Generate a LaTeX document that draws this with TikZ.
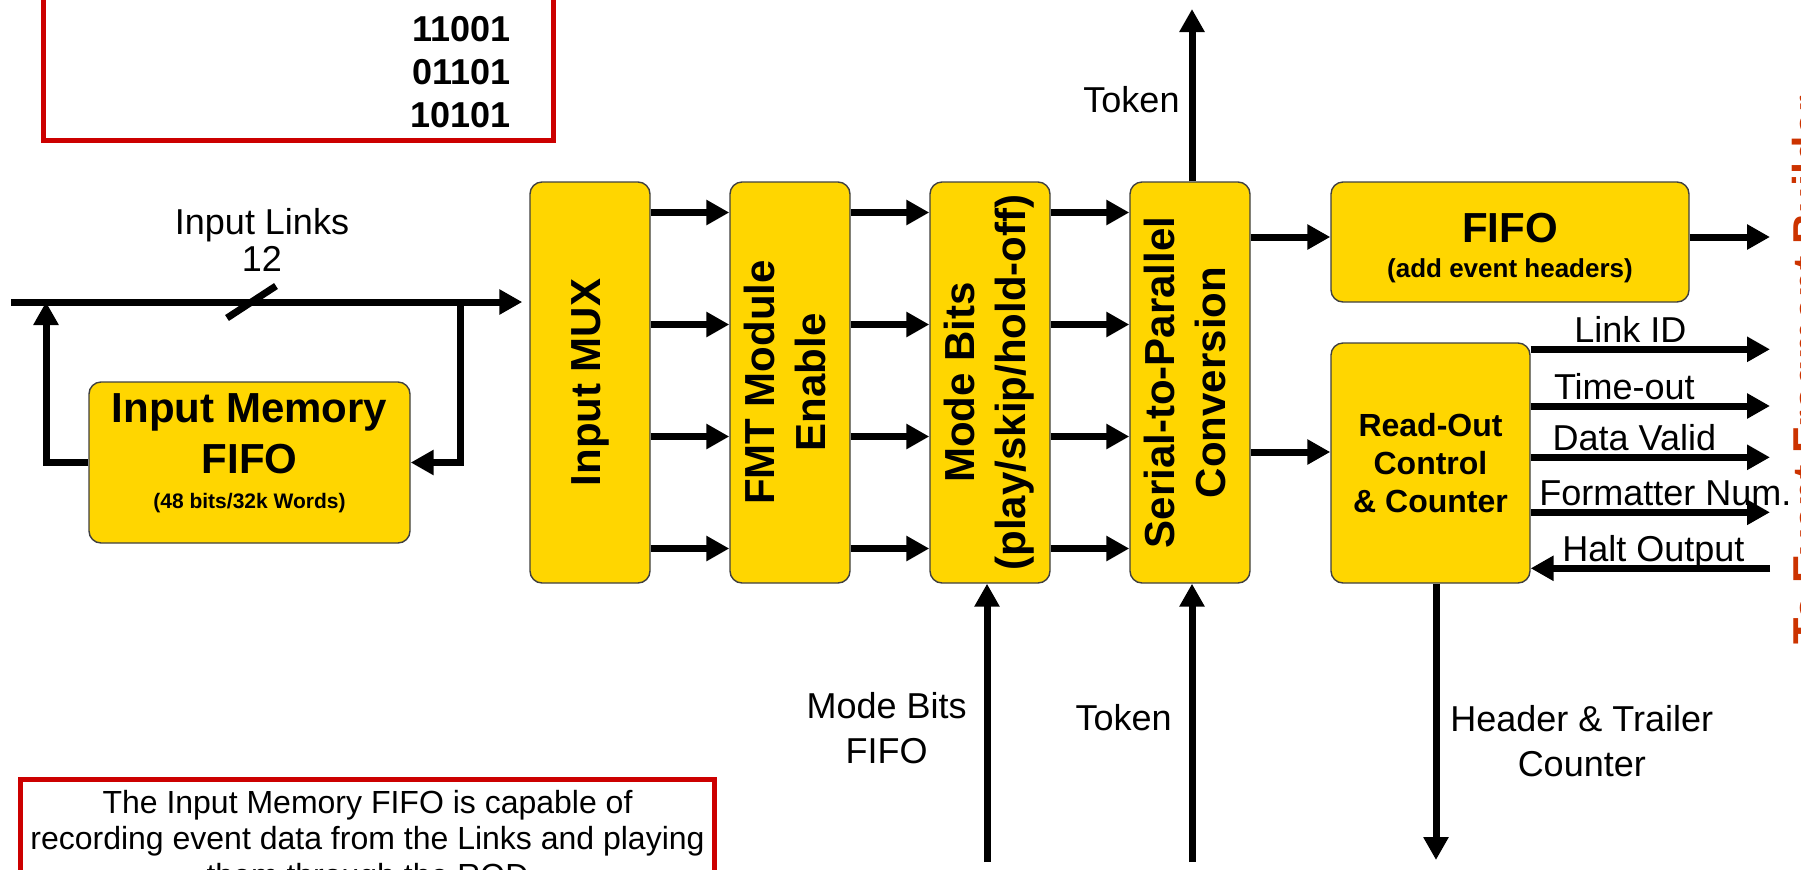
\documentclass[tikz,border=0pt]{standalone}
\usepackage{fontspec}
\setmainfont{Liberation Sans}
\usepackage{graphicx}
\usepackage{tikz}
\usetikzlibrary{arrows.meta}
\usetikzlibrary{positioning}
\tikzset{
    block/.style={
           rectangle,
           rounded corners=6pt,
           draw=black!75, line width=0.7pt,
           fill=blockyellow,
           inner sep=2pt,
           align=center,
           text=black,
           font=\bfseries\fontsize{21}{25.5}\selectfont
           },
    tallblock/.style={block, minimum width=60pt, minimum height=200.5pt},
    wire/.style={line width=3.5pt},
    sig/.style={font=\fontsize{18}{22.5}\selectfont, inner sep=0pt, text=black},
    wirelabel/.style={sig, anchor=base, yshift=3.3pt},
    redbox/.style={rectangle, draw=notered, line width=2.5pt},
}
\definecolor{blockyellow}{RGB}{255,214,0}
\definecolor{notered}{RGB}{204,0,0}
\definecolor{efbred}{RGB}{204,51,0}
\newcommand{\rottext}[1]{\rotatebox{90}{\begin{tabular}{@{}c@{}}#1\end{tabular}}}
\newcommand{\padbelow}[1]{\rule[-#1]{0pt}{0pt}}
\newcommand{\padabove}[1]{\rule{0pt}{#1}}

\begin{document}
\begin{tikzpicture}[->,>={Triangle[length=11.5pt,width=12pt]}]

\useasboundingbox (0,0) rectangle (900.5pt,-434.5pt);
\clip (0,0) rectangle (900.5pt,-434.5pt);

% Box: bit patterns
\node[redbox, minimum width=255pt, minimum height=100pt, anchor=south west] (bitsbox) at (20.5pt,-71.5pt) {};
\node[anchor=south east, inner sep=0pt, align=right, font=\bfseries\fontsize{18}{21.5}\selectfont] (bits) at ([xshift=-22.5pt,yshift=7.5pt]bitsbox.south east) {11001\\01101\\10101};

% Block: input multiplexer
\node[tallblock] (MUX) at (295pt,-191.25pt) {\rotatebox{90}{Input MUX}};

% Block: module enable
\node[tallblock, right of=MUX, node distance=100pt] (FMT) {\rottext{FMT Module\\Enable}};

% Block: mode bits
\node[tallblock, right of=FMT, node distance=100pt] (MODE) {\rottext{Mode Bits\\(play/skip/hold-off)}};

% Block: serial to parallel
\node[tallblock, right of=MODE, node distance=100pt] (S2P) {\rottext{Serial-to-Parallel\\Conversion}};

% Block: input memory
\node[block, minimum width=160.5pt, minimum height=80.5pt, left of=MUX, node distance=170.25pt, yshift=-40pt] (IMF) {Input Memory\\FIFO\\[-8pt]{\fontsize{10.5}{12.6}\selectfont (48 bits/32k Words)\padbelow{11.8pt}}};

% Block: output fifo
\node[block, minimum width=179pt, minimum height=60pt, right of=S2P, node distance=160pt, yshift=70.25pt] (FIFO) {\padabove{20.25pt}FIFO\\[-8pt]{\fontsize{13}{15.6}\selectfont (add event headers)}};

% Block: read-out control
\node[block, minimum width=99.5pt, minimum height=120pt, right of=S2P, node distance=120.25pt, yshift=-40.25pt, font=\bfseries\fontsize{16}{19}\selectfont] (ROC) {Read-Out\\Control\\\& Counter};

% link bus with the memory loop
\coordinate (busin) at (5.5pt,-151pt);
\coordinate (tapL) at (23pt,-151pt);
\coordinate (tapR) at (230pt,-151pt);
\coordinate (busmark) at (125.75pt,-151pt);
\draw[wire, shorten >=3.5pt] (busin) -- (busin -| MUX.west);
\draw[wire,-] ([shift={(-12.25pt,-8pt)}]busmark) -- ([shift={(12.25pt,8pt)}]busmark);
\node[sig, align=center, font=\fontsize{18}{18.3}\selectfont] (links) at (131pt,-120pt) {Input Links\\12};
\draw[wire] (IMF.west) -| (tapL);
\draw[wire] (tapR) |- (IMF.east);

% four lanes between the blocks
\foreach \a/\b in {MUX/FMT, FMT/MODE, MODE/S2P}
  \foreach \dy in {85,29,-27,-83}
    \draw[wire] ([yshift=\dy pt]\a.east) -- ([yshift=\dy pt]\b.west);

\draw[wire] ([yshift=2.5pt]FIFO.west -| S2P.east) -- ([yshift=2.5pt]FIFO.west);
\draw[wire] ([yshift=5.5pt]ROC.west -| S2P.east) -- ([yshift=5.5pt]ROC.west);

% outputs on the right
\coordinate (outx) at (885pt,0);
\draw[wire] ([yshift=2.5pt]FIFO.east) -- ([yshift=2.5pt]FIFO.east -| outx);
\foreach \dy/\txt/\dx [count=\i] in {56.85/Link ID/-10, 28.5/Time-out/-13, 2.85/Data Valid/-8, -24.65/Formatter Num./7.5}
  \draw[wire] ([yshift=\dy pt]ROC.east) -- ([yshift=\dy pt]ROC.east -| outx)
    node[wirelabel, midway, xshift=\dx pt] (sig\i) {\txt};
\draw[wire] ([yshift=-52.65pt]ROC.east -| outx) -- ([yshift=-52.65pt]ROC.east)
    node[wirelabel, midway, xshift=1.5pt] (halt) {Halt Output};

% token out at the top
\coordinate (tokout) at (596pt,-4.5pt);
\draw[wire] (tokout |- S2P.north) -- (tokout)
    node[sig, pos=0.474, anchor=east, xshift=-4.5pt] (toklab) {Token};

% inputs and output at the bottom
\coordinate (modein) at (493.5pt,-431pt);
\coordinate (tokin) at (596pt,-431pt);
\coordinate (hdrout) at (718pt,-430pt);
\draw[wire] (modein) -- (modein |- MODE.south);
\draw[wire] (tokin) -- (tokin |- S2P.south);
\draw[wire] (hdrout |- ROC.south) -- (hdrout);
\node[sig, align=center, anchor=east] (modelab) at ([xshift=-10pt,yshift=67pt]modein) {Mode Bits\\FIFO};
\node[sig, anchor=east] (tokinlab) at ([xshift=-10pt,yshift=72pt]tokin) {Token};
\node[sig, align=center, anchor=west] (hdrlab) at ([xshift=7pt,yshift=59.5pt]hdrout) {Header \& Trailer\\Counter};

% destination, along the right edge
\node[rotate=90, anchor=north west, inner sep=0pt, text=efbred, font=\bfseries\fontsize{21.6}{26}\selectfont] (efb) at (896pt,-322.5pt) {To Event Fragment Builder};

% Box: note on the memory
\node[redbox, anchor=north west, minimum width=347pt, inner xsep=3pt, inner ysep=5.25pt, align=center, font=\fontsize{16}{18.3}\selectfont] (note) at (9pt,-388.5pt) {The Input Memory FIFO is capable of\\recording event data from the Links and playing\\them through the ROD};

\end{tikzpicture}
\end{document}
